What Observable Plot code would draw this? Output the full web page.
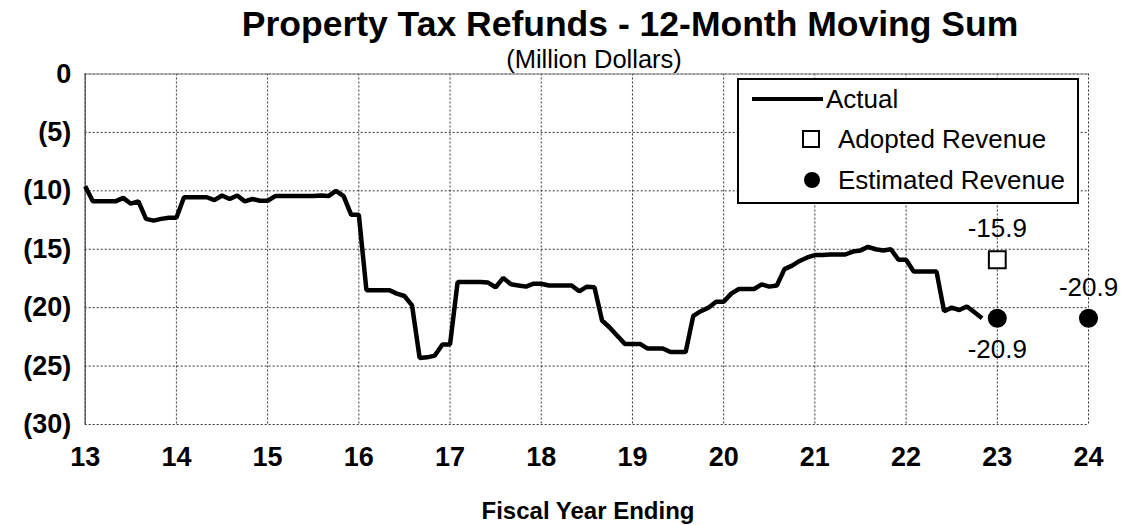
<!DOCTYPE html>
<html>
<head>
<meta charset="utf-8">
<script src="https://cdn.jsdelivr.net/npm/d3@7"></script>
<script src="https://cdn.jsdelivr.net/npm/@observablehq/plot@0.6"></script>
<style>
  html, body { margin: 0; padding: 0; background: #fff; }
  body { width: 1125px; height: 525px; overflow: hidden; position: relative; font-family: "Liberation Sans", Arial, sans-serif; }
  #title { position: absolute; z-index: 3; top: 7.5px; left: 630px; transform: translateX(-50%); white-space: nowrap; font-size: 35.5px; line-height: 33px; font-weight: bold; color: #000; }
  #subtitle { position: absolute; z-index: 3; top: 47.5px; left: 594px; transform: translateX(-50%); white-space: nowrap; font-size: 25.5px; line-height: 22px; color: #000; }
  #chart { position: absolute; z-index: 1; top: 60px; left: 0; }
  #xlabel { position: absolute; z-index: 3; top: 498px; left: 588px; transform: translateX(-50%); white-space: nowrap; font-size: 24px; line-height: 26px; font-weight: bold; }
  #legend { position: absolute; z-index: 3; left: 737px; top: 78px; }
</style>
</head>
<body>
<div id="title">Property Tax Refunds - 12-Month Moving Sum</div>
<div id="subtitle">(Million Dollars)</div>
<div id="chart"></div>
<div id="xlabel">Fiscal Year Ending</div>
<svg id="legend" width="342" height="126" xmlns="http://www.w3.org/2000/svg" font-family="Liberation Sans, Arial, sans-serif">
  <rect x="1" y="1" width="340" height="124" fill="#fff" stroke="#000" stroke-width="2"></rect>
  <line x1="15" y1="21" x2="86" y2="21" stroke="#000" stroke-width="4"></line>
  <text x="89" y="21" dy="0.35em" font-size="26">Actual</text>
  <rect x="66" y="53" width="16" height="16" fill="#fff" stroke="#000" stroke-width="2"></rect>
  <text x="101" y="61" dy="0.35em" font-size="26">Adopted Revenue</text>
  <circle cx="75" cy="102" r="8" fill="#000"></circle>
  <text x="101" y="102" dy="0.35em" font-size="26">Estimated Revenue</text>
</svg>
<script>
// Fiscal year axis ticks and value axis ticks
const xTicks = [13, 14, 15, 16, 17, 18, 19, 20, 21, 22, 23, 24];
const yTicks = [0, -5, -10, -15, -20, -25, -30];

// Monthly 12-month moving sum of property tax refunds (million $), starting FY13
const startYear = 13;
const refunds = [
  // FY13
  -9.6, -10.9, -10.9, -10.9, -10.9, -10.6, -11.1, -10.9, -12.4, -12.55, -12.4, -12.3,
  // FY14
  -12.3, -10.55, -10.55, -10.55, -10.55, -10.8, -10.4, -10.7, -10.4, -10.9, -10.7, -10.85,
  // FY15
  -10.85, -10.45, -10.45, -10.45, -10.45, -10.45, -10.45, -10.4, -10.45, -10.0, -10.45, -12.05,
  // FY16
  -12.05, -18.5, -18.5, -18.5, -18.5, -18.8, -19.0, -19.8, -24.3, -24.25, -24.1, -23.15,
  // FY17
  -23.15, -17.8, -17.8, -17.8, -17.8, -17.85, -18.25, -17.45, -18.0, -18.1, -18.2, -17.95,
  // FY18
  -17.95, -18.1, -18.1, -18.1, -18.1, -18.6, -18.2, -18.25, -21.1, -21.7, -22.4, -23.1,
  // FY19
  -23.1, -23.1, -23.5, -23.5, -23.5, -23.8, -23.8, -23.8, -20.7, -20.3, -20.0, -19.5,
  // FY20
  -19.5, -18.8, -18.4, -18.4, -18.4, -18.0, -18.2, -18.1, -16.7, -16.4, -16.0, -15.7,
  // FY21
  -15.5, -15.5, -15.45, -15.45, -15.45, -15.2, -15.1, -14.8, -15.0, -15.1, -15.0, -15.9,
  // FY22
  -15.9, -16.9, -16.9, -16.9, -16.9, -20.3, -20.0, -20.2, -19.9, -20.4, -20.9
];

// Adopted and estimated revenue points
const adoptedYears = [23];
const adoptedValues = [-15.9];
const estimatedYears = [23, 24];
const estimatedValues = [-20.9, -20.9];
const estimatedLabelPos = ["below", "above"];

const actual = refunds.map((v, i) => ({x: startYear + i / 12, y: v}));
const adopted = adoptedYears.map((x, i) => ({x, y: adoptedValues[i]}));
const estimated = estimatedYears.map((x, i) => ({x, y: estimatedValues[i], pos: estimatedLabelPos[i]}));

const fmtY = d => d === 0 ? "0" : `(${Math.abs(d)})`;

const chart = Plot.plot({
  width: 1125,
  height: 436,
  marginTop: 13.5,
  marginLeft: 84.7,
  marginRight: 37,
  marginBottom: 72,
  style: {fontFamily: "Liberation Sans, Arial, sans-serif", background: "transparent", color: "#000", overflow: "visible"},
  x: {domain: [13, 24]},
  y: {domain: [-30, 0]},
  marks: [
    Plot.gridX(xTicks, {stroke: "#333", strokeOpacity: 1, strokeWidth: 1, strokeDasharray: "2,2"}),
    Plot.gridY(yTicks, {stroke: "#333", strokeOpacity: 1, strokeWidth: 1, strokeDasharray: "2,2"}),
    Plot.ruleY([0], {stroke: "#888", strokeWidth: 1.2}),
    Plot.ruleX([13], {stroke: "#444", strokeWidth: 1.2}),
    Plot.axisX(xTicks, {tickSize: 0, tickPadding: 22, tickFormat: d => String(d), fontSize: 27, fontWeight: "bold", label: null}),
    Plot.axisY(yTicks, {tickSize: 0, tickPadding: 14, tickFormat: fmtY, fontSize: 27, fontWeight: "bold", label: null, letterSpacing: "2px"}),
    Plot.line(actual, {x: "x", y: "y", stroke: "#000", strokeWidth: 4.5, strokeLinejoin: "miter", strokeLinecap: "butt"}),
    Plot.dot(adopted, {x: "x", y: "y", symbol: "square", r: 9.5, fill: "#fff", stroke: "#000", strokeWidth: 2}),
    Plot.dot(estimated, {x: "x", y: "y", r: 9.5, fill: "#000", stroke: "none"}),
    Plot.text(adopted, {x: "x", y: "y", text: d => d.y.toFixed(1), dy: -31, fontSize: 26, fill: "#000"}),
    Plot.text(estimated, {x: "x", y: "y", text: d => d.y.toFixed(1), fontSize: 26, fill: "#000", filter: d => d.pos === "below", dy: 31}),
    Plot.text(estimated, {x: "x", y: "y", text: d => d.y.toFixed(1), fontSize: 26, fill: "#000", filter: d => d.pos === "above", dy: -31})
  ]
});
document.getElementById("chart").appendChild(chart);
</script>
</body>
</html>
